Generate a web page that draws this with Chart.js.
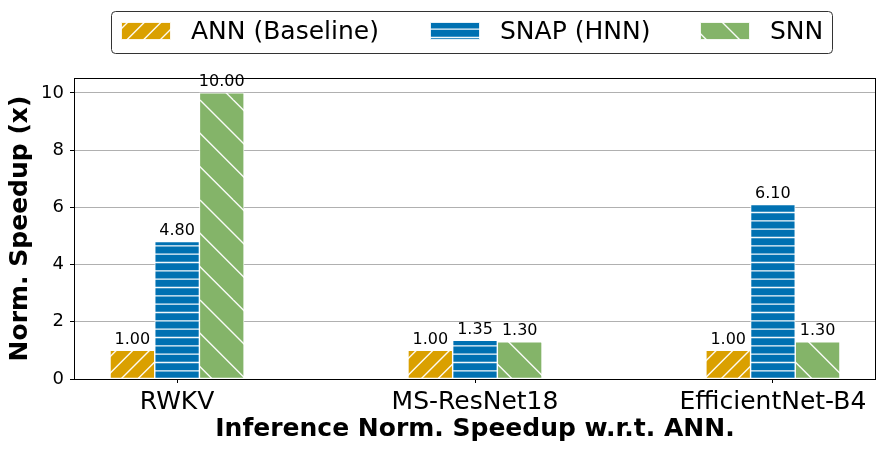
<!DOCTYPE html>
<html>
<head>
<meta charset="utf-8">
<script src="https://cdn.jsdelivr.net/npm/chart.js@4.4.1/dist/chart.umd.min.js"></script>
<style>
  html, body { margin: 0; padding: 0; background: #fff; }
  #wrap { width: 886px; height: 452px; }
</style>
</head>
<body>
<div id="wrap"><canvas id="speedupChart" width="886" height="452"></canvas></div>
<script>
'use strict'
// data
var categories = ['RWKV', 'MS-ResNet18', 'EfficientNet-B4'];
var seriesNames = ['ANN (Baseline)', 'SNAP (HNN)', 'SNN'];
var annValues  = [1.00, 1.00, 1.00];
var snapValues = [4.80, 1.35, 6.10];
var snnValues  = [10.00, 1.30, 1.30];
var yTicks = [0, 2, 4, 6, 8, 10];

var colors = ['#DAA000', '#0071B2', '#84B469'];
var FONT = "'DejaVu Sans', sans-serif";

// hatch patterns, anchored to the canvas origin so they run across bars like matplotlib
function hatch(bg, kind, n) {
  var c = document.createElement('canvas');
  c.width = 100; c.height = 100;
  var g = c.getContext('2d');
  g.fillStyle = bg;
  g.fillRect(0, 0, 100, 100);
  g.strokeStyle = 'rgba(255,255,255,0.95)';
  g.lineWidth = 1.4;
  var step = 100 / n;
  g.beginPath();
  if (kind === '-') {
    for (var k = 0; k < n; k++) {
      var y = k * step + step / 2;
      g.moveTo(0, y); g.lineTo(100, y);
    }
  } else if (kind === '/') {
    for (var k = -n; k <= 2 * n; k++) {
      var c0 = k * step;
      g.moveTo(c0 - 100, 200); g.lineTo(c0 + 100, 0);
    }
  } else {
    for (var k = -n; k <= 2 * n; k++) {
      var c1 = k * step;
      g.moveTo(c1 - 100, -100); g.lineTo(c1 + 100, 100);
    }
  }
  g.stroke();
  return g.createPattern(c, 'repeat');
}

var ctx0 = document.getElementById('speedupChart').getContext('2d');
var fills = [hatch(colors[0], '/', 6), hatch(colors[1], '-', 12), hatch(colors[2], '\\', 3)];

var offsets = [-0.15, 0, 0.15];
function points(vals, off) {
  return vals.map(function (v, i) { return { x: i + off, y: v }; });
}

var allValues = [annValues, snapValues, snnValues];
var datasets = allValues.map(function (vals, d) {
  return {
    label: seriesNames[d],
    data: points(vals, offsets[d]),
    backgroundColor: fills[d],
    borderColor: 'rgba(255,255,255,0.9)',
    borderWidth: 1,
    borderSkipped: false,
    barThickness: 44.6,
    grouped: false
  };
});

// value labels above each bar
var valueLabels = {
  id: 'valueLabels',
  afterDatasetsDraw: function (chart) {
    var ctx = chart.ctx;
    ctx.save();
    ctx.font = '16px ' + FONT;
    ctx.fillStyle = '#000';
    ctx.textAlign = 'center';
    ctx.textBaseline = 'bottom';
    chart.data.datasets.forEach(function (ds, d) {
      chart.getDatasetMeta(d).data.forEach(function (bar, i) {
        ctx.fillText(ds.data[i].y.toFixed(2), bar.x, bar.y - 3);
      });
    });
    ctx.restore();
  }
};

// frame around the plot plus the boxed legend on top
var frameAndLegend = {
  id: 'frameAndLegend',
  afterDraw: function (chart) {
    var ctx = chart.ctx, a = chart.chartArea;
    ctx.save();
    ctx.strokeStyle = '#000';
    ctx.lineWidth = 1;
    ctx.strokeRect(Math.round(a.left) + 0.5, Math.round(a.top) + 0.5,
      Math.round(a.right - a.left) - 1, Math.round(a.bottom - a.top));

    // legend box
    var bx = 111.5, by = 11.5, bw = 721, bh = 42, r = 4;
    ctx.beginPath();
    ctx.moveTo(bx + r, by);
    ctx.arcTo(bx + bw, by, bx + bw, by + bh, r);
    ctx.arcTo(bx + bw, by + bh, bx, by + bh, r);
    ctx.arcTo(bx, by + bh, bx, by, r);
    ctx.arcTo(bx, by, bx + bw, by, r);
    ctx.closePath();
    ctx.fillStyle = 'rgba(255,255,255,0.8)';
    ctx.fill();
    ctx.strokeStyle = '#333';
    ctx.stroke();

    var swX = [121, 430, 700];
    ctx.font = '25px ' + FONT;
    ctx.textAlign = 'left';
    ctx.textBaseline = 'middle';
    seriesNames.forEach(function (name, d) {
      ctx.fillStyle = fills[d];
      ctx.fillRect(swX[d], 22, 50, 18);
      ctx.strokeStyle = 'rgba(255,255,255,0.9)';
      ctx.strokeRect(swX[d] + 0.5, 22.5, 49, 17);
      ctx.fillStyle = '#000';
      ctx.fillText(name, swX[d] + 70, 32);
    });
    ctx.restore();
  }
};

var config = {
  type: 'bar',
  data: { datasets: datasets },
  options: {
    responsive: false,
    animation: false,
    layout: { padding: { top: 78, right: 10, left: 0, bottom: 0 } },
    plugins: {
      legend: { display: false },
      tooltip: { enabled: false }
    },
    scales: {
      x: {
        type: 'linear',
        min: -0.346,
        max: 2.346,
        offset: false,
        afterBuildTicks: function (scale) {
          scale.ticks = categories.map(function (c, i) { return { value: i }; });
        },
        afterFit: function (scale) { scale.height = 73; },
        ticks: {
          autoSkip: false,
          maxRotation: 0,
          padding: 4,
          color: '#000',
          font: { family: FONT, size: 25 },
          callback: function (v) { return categories[v]; }
        },
        grid: { offset: false, drawOnChartArea: false, drawTicks: true, tickLength: 4, tickColor: '#000' },
        border: { display: false },
        title: {
          display: true,
          text: 'Inference Norm. Speedup w.r.t. ANN.',
          color: '#000',
          font: { family: FONT, size: 25, weight: 'bold' },
          padding: { top: 0, bottom: 8 }
        }
      },
      y: {
        min: 0,
        max: 10.52,
        afterBuildTicks: function (scale) {
          scale.ticks = yTicks.map(function (v) { return { value: v }; });
        },
        afterFit: function (scale) { scale.width = 74; },
        ticks: {
          padding: 6,
          color: '#000',
          font: { family: FONT, size: 18 }
        },
        grid: { color: '#b0b0b0', lineWidth: 1, tickLength: 4, tickColor: '#000' },
        border: { display: false },
        title: {
          display: true,
          text: 'Norm. Speedup (x)',
          color: '#000',
          font: { family: FONT, size: 25, weight: 'bold' },
          padding: { top: 5, bottom: 0 }
        }
      }
    }
  },
  plugins: [valueLabels, frameAndLegend]
};

var speedupChart = new Chart(ctx0, config);
</script>
</body>
</html>
